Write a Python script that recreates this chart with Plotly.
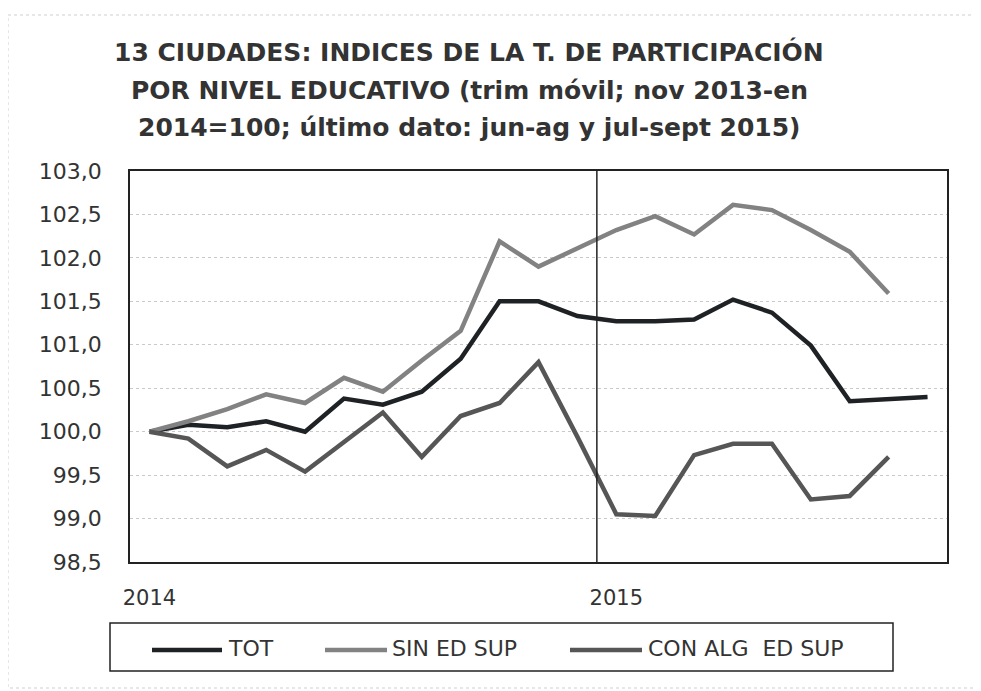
import plotly.graph_objects as go

# ---- data ----
months = ["2014-01", "2014-02", "2014-03", "2014-04", "2014-05", "2014-06", "2014-07",
          "2014-08", "2014-09", "2014-10", "2014-11", "2014-12", "2015-01", "2015-02",
          "2015-03", "2015-04", "2015-05", "2015-06", "2015-07", "2015-08", "2015-09"]
tick_months = ["2014-01", "2015-01"]
tick_labels = ["2014", "2015"]

series_names = ["TOT", "SIN ED SUP", "CON ALG  ED SUP"]
tot = [100.0, 100.08, 100.05, 100.12, 100.0, 100.38, 100.31, 100.46, 100.84, 101.50, 101.50,
       101.33, 101.27, 101.27, 101.29, 101.52, 101.37, 100.99, 100.35, 100.37, 100.40]
sin_ed_sup = [100.0, 100.12, 100.26, 100.43, 100.33, 100.62, 100.46, 100.82, 101.16, 102.19, 101.90,
              102.11, 102.32, 102.48, 102.27, 102.61, 102.55, 102.32, 102.07, 101.59, None]
con_alg_ed_sup = [100.0, 99.92, 99.60, 99.79, 99.54, 99.88, 100.22, 99.71, 100.18, 100.33, 100.80,
                  99.94, 99.05, 99.03, 99.73, 99.86, 99.86, 99.22, 99.26, 99.71, None]

y_ticks = [98.5, 99.0, 99.5, 100.0, 100.5, 101.0, 101.5, 102.0, 102.5, 103.0]
y_tick_text = ["98,5", "99,0", "99,5", "100,0", "100,5", "101,0", "101,5", "102,0", "102,5", "103,0"]

title_lines = ["13 CIUDADES: INDICES DE LA T. DE PARTICIPACIÓN",
               "POR NIVEL EDUCATIVO (trim móvil; nov 2013-en",
               "2014=100; último dato: jun-ag y jul-sept 2015)"]

colors = ["#1e2225", "#828282", "#565656"]
values = [tot, sin_ed_sup, con_alg_ed_sup]

# page body has an 8px margin; work in window pixel coordinates
O = 8
W, H = 981 - O, 691 - O
BOX_L, BOX_T, BOX_R, BOX_B = 130, 171, 947, 562
L, T = BOX_L - O, BOX_T - O
R, B = W - (BOX_R - O), H - (BOX_B - O)
PW, PH = W - L - R, H - T - B


def px(x):
    return (x - O - L) / PW


def py(y):
    return (H - B - (y - O)) / PH


FONT = "DejaVu Sans"

fig = go.Figure()
for name, vals, col in zip(series_names, values, colors):
    fig.add_trace(go.Scatter(x=months, y=vals, name=name, mode="lines",
                             line=dict(color=col, width=4.5), showlegend=False))

fig.update_layout(
    width=W, height=H,
    margin=dict(l=L, r=R, t=T, b=B),
    paper_bgcolor="white", plot_bgcolor="white",
    font=dict(family=FONT, color="#333333"),
)
fig.update_xaxes(type="category", categoryorder="array", categoryarray=months,
                 range=[-0.5, len(months) - 0.5],
                 tickmode="array", tickvals=tick_months, ticktext=tick_labels,
                 tickfont=dict(size=21, color="#333"), ticklabelstandoff=16,
                 showgrid=False, zeroline=False,
                 showline=True, mirror=True, linecolor="#222", linewidth=1.5, ticks="")
fig.update_yaxes(range=[98.5, 103.0], tickmode="array", tickvals=y_ticks, ticktext=y_tick_text,
                 tickfont=dict(size=22, color="#333"), ticklabelstandoff=22,
                 showgrid=True, gridcolor="#c9c9c9", griddash="dot", gridwidth=1,
                 zeroline=False, showline=True, mirror=True, linecolor="#222", linewidth=1.5,
                 ticks="")

# vertical separator between 2014 and 2015
fig.add_shape(type="line", xref="x", yref="paper", x0=11.5, x1=11.5, y0=0, y1=1,
              line=dict(color="#222", width=1.5))

# title lines
for line, ypx in zip(title_lines, [52, 90, 127]):
    fig.add_annotation(text="<b>" + line + "</b>", xref="paper", yref="paper",
                       x=px(469), y=py(ypx), xanchor="center", yanchor="middle",
                       showarrow=False, font=dict(size=25, color="#333", family=FONT))

# manual legend
fig.add_shape(type="rect", xref="paper", yref="paper",
              x0=px(110), x1=px(893), y0=py(623), y1=py(671),
              line=dict(color="#222", width=1.5), fillcolor="white")
legend_items = [(152, 222, 226), (325, 387, 390), (570, 642, 646)]
for name, col, (lx0, lx1, tx) in zip(series_names, colors, legend_items):
    fig.add_shape(type="line", xref="paper", yref="paper",
                  x0=px(lx0), x1=px(lx1), y0=py(650), y1=py(650),
                  line=dict(color=col, width=4.5))
    fig.add_annotation(text=name.replace("  ", "&nbsp; "), xref="paper", yref="paper",
                       x=px(tx), y=py(648), xanchor="left", yanchor="middle",
                       showarrow=False, font=dict(size=22, color="#333", family=FONT))

# faint outer frame of the chart object
fig.add_shape(type="rect", xref="paper", yref="paper",
              x0=px(8), x1=px(976), y0=py(15), y1=py(688),
              line=dict(color="#cfcfcf", width=1, dash="dot"))

fig.write_html("out.html")
